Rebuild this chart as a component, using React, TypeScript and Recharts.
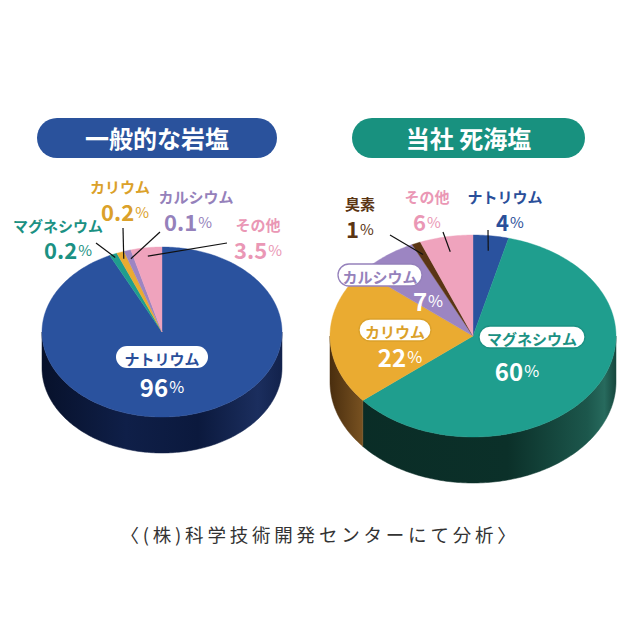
import React from "react";
import { PieChart, Pie, Cell } from "recharts";

// 一般的な岩塩
const rockNames = ["ナトリウム", "マグネシウム", "カリウム", "カルシウム", "その他"];
const rockValues = [96, 0.2, 0.2, 0.1, 3.5];
// 当社 死海塩
const seaNames = ["ナトリウム", "マグネシウム", "カリウム", "カルシウム", "臭素", "その他"];
const seaValues = [4, 60, 22, 7, 1, 6];

const titles = ["一般的な岩塩", "当社 死海塩"];
const note = "〈(株)科学技術開発センターにて分析〉";

const FONT = "'Noto Sans CJK JP', 'Noto Sans', sans-serif";

const TOP: Record<string, string> = {
  ナトリウム: "#2a529e",
  マグネシウム: "#1f9e8e",
  カリウム: "#eaab31",
  カルシウム: "#9c85c2",
  臭素: "#5a3514",
  その他: "#efa3bd",
};
const INK: Record<string, string> = {
  ナトリウム: "#2a4f9a",
  マグネシウム: "#1b9183",
  カリウム: "#dba12a",
  カルシウム: "#9581bb",
  臭素: "#5a3514",
  その他: "#ea97b5",
};

const rockData = rockNames.map((name, i) => ({ name, value: rockValues[i] }));
const seaData = seaNames.map((name, i) => ({ name, value: seaValues[i] }));

type Spot = {
  kind: "out" | "in";
  name: [number, number];
  value: [number, number];
  line?: [number, number];
  r?: number;
  pillW?: number;
};

// label placement, offsets from the pie centre
const rockSpots: Spot[] = [
  { kind: "in", name: [0, 25], value: [0, 54], pillW: 92 },
  { kind: "out", name: [-104, -107], value: [-94, -83], line: [-66, -89], r: 0.96 },
  { kind: "out", name: [-42, -146], value: [-37, -121], line: [-39, -104], r: 0.92 },
  { kind: "out", name: [34, -136], value: [26, -111], line: [-2, -100], r: 0.9 },
  { kind: "out", name: [96, -108], value: [96, -83], line: [65, -89], r: 0.9 },
];
const seaSpots: Spot[] = [
  { kind: "out", name: [32, -140], value: [37, -115], line: [15, -106], r: 0.85 },
  { kind: "in", name: [59, 1], value: [44, 34], pillW: 106 },
  { kind: "in", name: [-78, -6], value: [-73, 20], pillW: 72 },
  { kind: "in", name: [-93, -61], value: [-45, -36], pillW: 84 },
  { kind: "out", name: [-113, -133], value: [-113, -108], line: [-83, -101], r: 0.88 },
  { kind: "out", name: [-46, -140], value: [-46, -115], line: [-30, -104], r: 0.85 },
];

const rockSide = ["url(#sideRock0)", "#0c5a50", "#6b4a17", "#4e3f66", "#7d4f60"];
const seaSide = ["#142a55", "url(#sideSea1)", "url(#sideSea2)", "#4e3f66", "#2e1a0a", "#7d4f60"];

function pt(cx: number, cy: number, rx: number, ry: number, deg: number) {
  const a = (deg * Math.PI) / 180;
  return [cx + rx * Math.cos(a), cy - ry * Math.sin(a)];
}

function makeSlice(ratio: number, depth: number, sides: string[]) {
  return (p: any) => {
    const { cx, cy, outerRadius: rx, startAngle, endAngle, fill, index } = p;
    const ry = rx * ratio;
    const lo = Math.min(startAngle, endAngle);
    const hi = Math.max(startAngle, endAngle);
    const angles: number[] = [startAngle];
    if (startAngle > endAngle) {
      for (let a = Math.ceil(hi) - 1; a > lo; a--) if (a < hi) angles.push(a);
    } else {
      for (let a = Math.floor(lo) + 1; a < hi; a++) angles.push(a);
    }
    angles.push(endAngle);
    const pts = angles.map((a) => pt(cx, cy, rx, ry, a));
    const top = `M${cx},${cy} ` + pts.map((q) => `L${q[0]},${q[1]}`).join(" ") + " Z";

    const runs: number[][][] = [];
    let cur: number[][] = [];
    angles.forEach((a, i) => {
      if (Math.sin((a * Math.PI) / 180) <= 1e-9) cur.push(pts[i]);
      else {
        if (cur.length > 1) runs.push(cur);
        cur = [];
      }
    });
    if (cur.length > 1) runs.push(cur);
    const walls = runs.map((run) => {
      const down = run.slice().reverse().map((q) => `L${q[0]},${q[1] + depth}`).join(" ");
      return `M${run[0][0]},${run[0][1]} ` + run.map((q) => `L${q[0]},${q[1]}`).join(" ") + " " + down + " Z";
    });
    return (
      <g>
        {walls.map((d, i) => (
          <path key={i} d={d} fill={sides[index]} stroke={sides[index]} strokeWidth={0.5} />
        ))}
        <path d={top} fill={fill} stroke={fill} strokeWidth={0.4} />
      </g>
    );
  };
}

function Value({ x, y, text, color, size }: { x: number; y: number; text: string; color: string; size: number }) {
  return (
    <text x={x} y={y} textAnchor="middle" dominantBaseline="central" fill={color} fontFamily={FONT}>
      <tspan fontSize={size} fontWeight={700}>{text}</tspan>
      <tspan fontSize={size * 0.68} fontWeight={400} dx={1}>%</tspan>
    </text>
  );
}

function makeLabel(spots: Spot[], ratio: number, names: string[], values: number[], border: boolean) {
  return (p: any) => {
    const { cx, cy, midAngle, outerRadius, index } = p;
    const s = spots[index];
    const name = names[index];
    const val = String(values[index]);
    if (s.kind === "in") {
      const w = s.pillW || 80;
      return (
        <g key={`l${index}`}>
          <rect
            x={cx + s.name[0] - w / 2}
            y={cy + s.name[1] - 11}
            width={w}
            height={22}
            rx={11}
            fill="#ffffff"
            stroke={border ? INK[name] : "none"}
            strokeWidth={1.3}
          />
          <text
            x={cx + s.name[0]}
            y={cy + s.name[1] + 1}
            textAnchor="middle"
            dominantBaseline="central"
            fill={INK[name]}
            fontSize={15}
            fontWeight={700}
            fontFamily={FONT}
          >
            {name}
          </text>
          <Value x={cx + s.value[0]} y={cy + s.value[1]} text={val} color="#ffffff" size={24} />
        </g>
      );
    }
    const r = s.r || 0.9;
    const end = pt(cx, cy, outerRadius * r, outerRadius * ratio * r, midAngle);
    const ln = s.line || s.value;
    return (
      <g key={`l${index}`}>
        <line x1={cx + ln[0]} y1={cy + ln[1]} x2={end[0]} y2={end[1]} stroke="#111111" strokeWidth={1.2} />
        <text
          x={cx + s.name[0]}
          y={cy + s.name[1]}
          textAnchor="middle"
          dominantBaseline="central"
          fill={INK[name]}
          fontSize={15}
          fontWeight={700}
          fontFamily={FONT}
        >
          {name}
        </text>
        <Value x={cx + s.value[0]} y={cy + s.value[1]} text={val} color={INK[name]} size={22} />
      </g>
    );
  };
}

const ROCK_RATIO = 85 / 120;
const SEA_RATIO = 101 / 143;

const rockSlice = makeSlice(ROCK_RATIO, 36, rockSide);
const seaSlice = makeSlice(SEA_RATIO, 46, seaSide);
const rockLabel = makeLabel(rockSpots, ROCK_RATIO, rockNames, rockValues, false);
const seaLabel = makeLabel(seaSpots, SEA_RATIO, seaNames, seaValues, true);

const pill = (left: number, width: number, bg: string): React.CSSProperties => ({
  position: "absolute",
  left,
  top: 118,
  width,
  height: 40,
  borderRadius: 20,
  background: bg,
  color: "#ffffff",
  fontFamily: FONT,
  fontWeight: 700,
  fontSize: 24,
  lineHeight: "40px",
  textAlign: "center",
});

export default function App() {
  return (
    <div style={{ position: "absolute", left: 0, top: 0, width: 640, height: 640, background: "#ffffff" }}>
      <PieChart width={640} height={640} margin={{ top: 0, right: 0, bottom: 0, left: 0 }}>
        <defs>
          <linearGradient id="sideRock0" gradientUnits="userSpaceOnUse" x1={42} y1={0} x2={282} y2={0}>
            <stop offset="0" stopColor="#07112b" />
            <stop offset="0.35" stopColor="#0f1f48" />
            <stop offset="0.65" stopColor="#0b193d" />
            <stop offset="0.9" stopColor="#1b2e5e" />
            <stop offset="1" stopColor="#12224c" />
          </linearGradient>
          <linearGradient id="sideSea1" gradientUnits="userSpaceOnUse" x1={330} y1={0} x2={616} y2={0}>
            <stop offset="0" stopColor="#0a2c26" />
            <stop offset="0.62" stopColor="#0b3029" />
            <stop offset="0.9" stopColor="#1c574c" />
            <stop offset="0.96" stopColor="#276a5d" />
            <stop offset="1" stopColor="#16463d" />
          </linearGradient>
          <linearGradient id="sideSea2" gradientUnits="userSpaceOnUse" x1={330} y1={0} x2={364} y2={0}>
            <stop offset="0" stopColor="#4a2e0e" />
            <stop offset="1" stopColor="#7a5322" />
          </linearGradient>
        </defs>
        <Pie
          data={rockData}
          dataKey="value"
          nameKey="name"
          cx={162}
          cy={332}
          outerRadius={120}
          startAngle={90}
          endAngle={-270}
          minAngle={3}
          stroke="none"
          isAnimationActive={false}
          shape={rockSlice}
          activeShape={rockSlice}
          inactiveShape={rockSlice}
          label={rockLabel}
          labelLine={false}
        >
          {rockData.map((d) => (
            <Cell key={d.name} fill={TOP[d.name]} />
          ))}
        </Pie>
        <Pie
          data={seaData}
          dataKey="value"
          nameKey="name"
          cx={473}
          cy={336}
          outerRadius={143}
          startAngle={90}
          endAngle={-270}
          stroke="none"
          isAnimationActive={false}
          shape={seaSlice}
          activeShape={seaSlice}
          inactiveShape={seaSlice}
          label={seaLabel}
          labelLine={false}
        >
          {seaData.map((d) => (
            <Cell key={d.name} fill={TOP[d.name]} />
          ))}
        </Pie>
      </PieChart>
      <div style={pill(37, 240, "#2a529c")}>{titles[0]}</div>
      <div style={pill(352, 233, "#18917f")}>{titles[1]}</div>
      <div
        style={{
          position: "absolute",
          left: 0,
          width: 640,
          top: 521,
          textAlign: "center",
          fontFamily: FONT,
          fontSize: 18.5,
          fontWeight: 400,
          color: "#333333",
          letterSpacing: 3.8,
        }}
      >
        {note}
      </div>
    </div>
  );
}
